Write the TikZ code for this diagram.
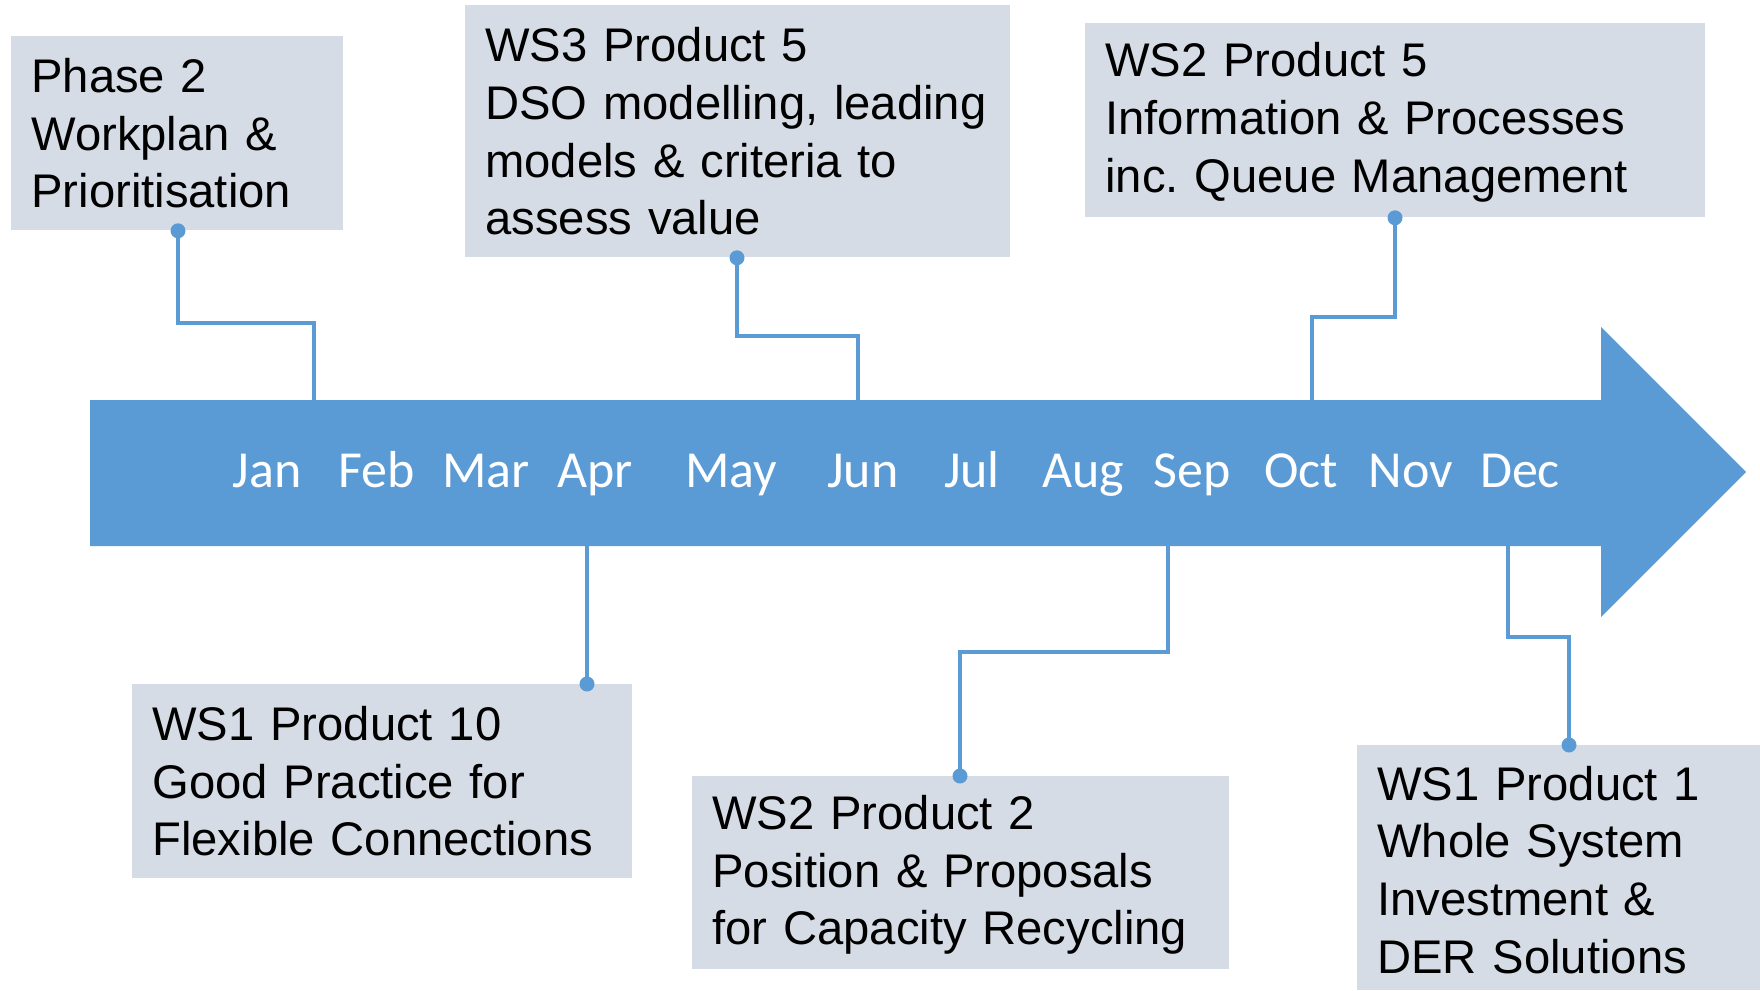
\documentclass[tikz,border=0pt]{standalone}
\usepackage{fontspec}
\setmainfont{Liberation Sans}
\newfontfamily\monthfont{Carlito}
\usetikzlibrary{calc}
\definecolor{arrowblue}{HTML}{5B9BD5}
\definecolor{boxgrey}{HTML}{D6DCE5}
\hyphenpenalty=10000
\begin{document}
\frenchspacing
\begin{tikzpicture}[x=0.5pt,y=-0.5pt,
  box/.style={fill=boxgrey, draw=none, anchor=north west, inner xsep=10pt, inner ysep=0pt,
    align=left, font=\fontsize{23.6pt}{28.8pt}\selectfont},
  conn/.style={draw=arrowblue, line width=2pt},
  dot/.style={circle, fill=arrowblue, inner sep=0pt, minimum size=7.5pt},
  month/.style={text=white, font=\monthfont\fontsize{26pt}{30pt}\selectfont, anchor=base}]
\useasboundingbox (0,0) rectangle (1760,990);

% timeline arrow
\fill[arrowblue] (90,400) -- (1601,400) -- (1601,327) -- (1746,472) -- (1601,617)
  -- (1601,546) -- (90,546) -- cycle;
\coordinate (aJan) at (314,400);
\coordinate (aJun) at (858,400);
\coordinate (aOct) at (1312,400);
\coordinate (aApr) at (587,546);
\coordinate (aSep) at (1168,546);
\coordinate (aDec) at (1508,546);

% months
\node[month] (jan) at (267,487) {Jan};
\node[month] (feb) at (377,487) {Feb};
\node[month] (mar) at (486,487) {Mar};
\node[month] (apr) at (595,487) {Apr};
\node[month] (may) at (731,487) {May};
\node[month] (jun) at (863,487) {Jun};
\node[month] (jul) at (972,487) {Jul};
\node[month] (aug) at (1083,487) {Aug};
\node[month] (sep) at (1192,487) {Sep};
\node[month] (oct) at (1301,487) {Oct};
\node[month] (nov) at (1411,487) {Nov};
\node[month] (dec) at (1520,487) {Dec};

% boxes
\node[box, minimum width=166pt, minimum height=97pt, text width=146pt] (p2) at (11,36)
  {Phase 2\\Workplan \&\\Prioritisation};
\node[box, minimum width=272.5pt, minimum height=126pt, text width=252.5pt] (ws3) at (465,5)
  {WS3 Product 5\\\mbox{DSO modelling, leading}\\models \& criteria to\\assess value};
\node[box, minimum width=310pt, minimum height=97pt, text width=290pt] (ws2p5) at (1085,23)
  {\rule{0pt}{19pt}WS2 Product 5\\Information \& Processes\\\mbox{inc. Queue Management}};
\node[box, minimum width=250pt, minimum height=97pt, text width=230pt] (ws1p10) at (132,684)
  {WS1 Product 10\\Good Practice for\\\mbox{Flexible Connections}};
\node[box, minimum width=268.5pt, minimum height=96.5pt, text width=248.5pt] (ws2p2) at (692,776)
  {\rule{0pt}{19pt}WS2 Product 2\\Position \& Proposals\\\mbox{for Capacity Recycling}};
\node[box, minimum width=201.5pt, minimum height=122.5pt, text width=181.5pt] (ws1p1) at (1357,745)
  {\rule{0pt}{19pt}WS1 Product 1\\Whole System\\Investment \&\\DER Solutions};

% dots
\node[dot] (d1) at ($(p2.south west)+(167,0)$) {};
\node[dot] (d2) at ($(ws3.south west)+(272,0)$) {};
\node[dot] (d3) at ($(ws2p5.south west)+(310,0)$) {};
\node[dot] (d4) at ($(ws1p10.north west)+(455,0)$) {};
\node[dot] (d5) at ($(ws2p2.north west)+(268,0)$) {};
\node[dot] (d6) at ($(ws1p1.north west)+(212,0)$) {};

% connectors
\draw[conn] (d1.center) -- ++(0,92) -| (aJan);
\draw[conn] (d2.center) -- ++(0,78) -| (aJun);
\draw[conn] (d3.center) -- ++(0,99) -| (aOct);
\draw[conn] (aApr) -- (d4.center);
\draw[conn] (aSep) -- ++(0,106) -| (d5.center);
\draw[conn] (aDec) -- ++(0,91) -| (d6.center);
\end{tikzpicture}
\end{document}
